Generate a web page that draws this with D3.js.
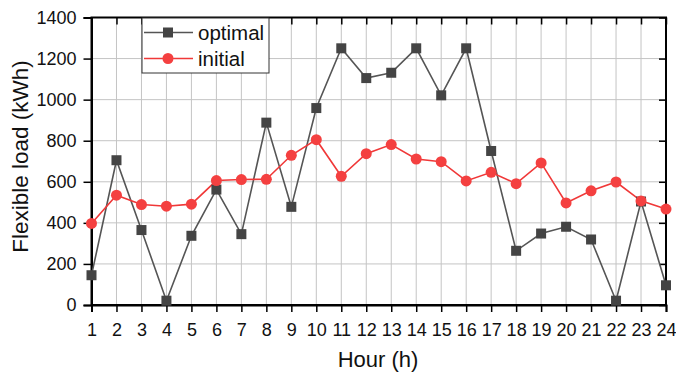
<!DOCTYPE html>
<html><head><meta charset="utf-8">
<script src="https://cdn.jsdelivr.net/npm/d3@7"></script>
<style>body{margin:0;background:#fff}svg{display:block}</style>
</head><body>
<svg id="c" width="676" height="375"></svg>
<script>
const hours = d3.range(1, 25);
const optimal = [145,705,365,21,337,562,345,888,478,959,1250,1105,1131,1250,1021,1250,750,264,348,381,319,21,504,96];
const initial = [397,535,489,481,491,606,611,612,729,805,627,737,781,711,698,604,646,591,692,497,556,599,507,467];
const yTicks = [0,200,400,600,800,1000,1200,1400];
const seriesNames = ["optimal","initial"];

const svg = d3.select("#c");
const L = 91.5, R = 666, T = 17.5, B = 305;
const x = d3.scaleLinear().domain([1,24]).range([L,R]);
const y = d3.scaleLinear().domain([0,1400]).range([B,T]);
const font = "'Liberation Sans', Arial, sans-serif";

// grid
const g = svg.append("g");
g.selectAll(".vg").data(hours).join("line")
  .attr("x1",d=>x(d)).attr("x2",d=>x(d)).attr("y1",T).attr("y2",B)
  .attr("stroke","#c4c4c4").attr("stroke-width",1);
g.selectAll(".hg").data(yTicks).join("line")
  .attr("x1",L).attr("x2",R).attr("y1",d=>y(d)).attr("y2",d=>y(d))
  .attr("stroke","#c4c4c4").attr("stroke-width",1);

// axes
const ax = svg.append("g").attr("transform",`translate(0,${B})`)
  .call(d3.axisBottom(x).tickValues(hours).tickFormat(d3.format("d")).tickSize(7).tickPadding(11));
const ay = svg.append("g").attr("transform",`translate(${L},0)`)
  .call(d3.axisLeft(y).tickValues(yTicks).tickFormat(d3.format("d")).tickSize(8).tickPadding(7));
const axT = svg.append("g").attr("transform",`translate(0,${T})`)
  .call(d3.axisBottom(x).tickValues(hours).tickFormat("").tickSize(7));
const ayR = svg.append("g").attr("transform",`translate(${R},0)`)
  .call(d3.axisLeft(y).tickValues(yTicks).tickFormat("").tickSize(7));
[ax,ay,axT,ayR].forEach(a=>{
  a.select(".domain").attr("stroke","#000").attr("stroke-width",2);
  a.selectAll(".tick line").attr("stroke","#000").attr("stroke-width",1.5);
  a.selectAll("text").attr("font-family",font).attr("font-size",18).attr("fill","#111");
});
[axT,ayR].forEach(a=>a.select(".domain").remove());
svg.append("rect").attr("x",L).attr("y",T).attr("width",R-L).attr("height",B-T)
  .attr("fill","none").attr("stroke","#000").attr("stroke-width",2);

// lines
const line = d3.line().x((d,i)=>x(hours[i])).y(d=>y(d));
const cols = {optimal:"#555", initial:"#f03838"};
const mcol = {optimal:"#444", initial:"#f44040"};
svg.append("path").datum(optimal).attr("d",line).attr("fill","none").attr("stroke",cols.optimal).attr("stroke-width",1.6);
svg.append("path").datum(initial).attr("d",line).attr("fill","none").attr("stroke",cols.initial).attr("stroke-width",1.6);
svg.selectAll(".sq").data(optimal).join("rect")
  .attr("x",(d,i)=>x(hours[i])-5).attr("y",d=>y(d)-5).attr("width",10).attr("height",10).attr("fill",mcol.optimal);
svg.selectAll(".ci").data(initial).join("circle")
  .attr("cx",(d,i)=>x(hours[i])).attr("cy",d=>y(d)).attr("r",5.5).attr("fill",mcol.initial);

// legend
const lg = svg.append("g");
lg.append("rect").attr("x",142).attr("y",18).attr("width",127).attr("height",55)
  .attr("fill","#fff").attr("stroke","#333").attr("stroke-width",1);
seriesNames.forEach((s,i)=>{
  const yy = 32.5 + i*26;
  lg.append("line").attr("x1",144).attr("x2",193).attr("y1",yy).attr("y2",yy).attr("stroke",cols[s]).attr("stroke-width",1.6);
  if(s==="optimal") lg.append("rect").attr("x",163).attr("y",yy-5).attr("width",10).attr("height",10).attr("fill",mcol[s]);
  else lg.append("circle").attr("cx",168).attr("cy",yy).attr("r",5.5).attr("fill",mcol[s]);
  lg.append("text").attr("x",198).attr("y",yy+7).text(s).attr("font-family",font).attr("font-size",20.5).attr("fill","#111");
});

// axis titles
svg.append("text").attr("x",378).attr("y",367).attr("text-anchor","middle")
  .attr("font-family",font).attr("font-size",22).attr("fill","#111").text("Hour (h)");
svg.append("text").attr("transform","translate(28,156.5) rotate(-90)").attr("text-anchor","middle")
  .attr("font-family",font).attr("font-size",22.5).attr("fill","#111").text("Flexible load (kWh)");
</script>
</body></html>
